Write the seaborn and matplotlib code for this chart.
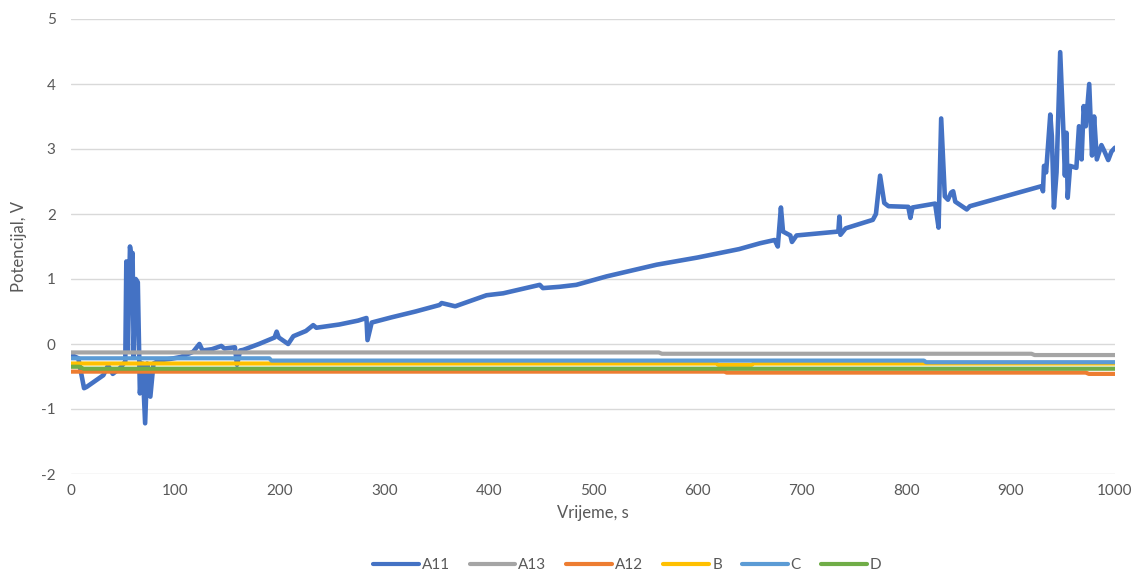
import numpy as np
import pandas as pd
import matplotlib
matplotlib.use("Agg")
import matplotlib.pyplot as plt
from matplotlib.lines import Line2D
import seaborn as sns

# podaci očitani s grafa
t_a11 = [0, 2, 7, 12.5, 15, 31, 35.5, 40, 47, 52, 53, 54.5, 56.5, 58, 59, 60, 62, 64, 66,
         68.5, 71, 73, 76, 79, 85, 95, 105, 117, 123, 126, 135, 144, 147, 157, 159, 162,
         165, 180, 195, 197, 199, 208, 213, 225, 232, 235, 257, 275, 283, 284, 288, 307,
         330, 353, 355, 368, 398, 414, 449, 452, 468, 484, 513, 561, 600, 640, 660, 674,
         677, 680, 682, 689, 690.6, 695, 735, 736, 737, 742, 768, 771, 775, 779, 783, 802,
         804, 806, 827.7, 831, 833.5, 837, 840, 843, 845, 847, 858, 861, 930, 931, 932,
         934, 938, 939.5, 941.5, 944, 947.5, 950.5, 952, 953.5, 954.7, 957, 963, 965.5,
         968, 970, 972, 975.3, 978, 980, 982.6, 987, 990, 993.5, 996.6, 1000]
v_a11 = [-0.2, -0.18, -0.22, -0.68, -0.66, -0.48, -0.33, -0.46, -0.37, -0.27, 1.27, -0.1,
         1.5, 1.3, 1.4, -0.2, 1.0, 0.95, -0.76, -0.3, -1.22, -0.3, -0.81, -0.3, -0.25,
         -0.23, -0.2, -0.12, 0.0, -0.1, -0.08, -0.03, -0.07, -0.05, -0.32, -0.1, -0.09,
         0.0, 0.1, 0.19, 0.1, 0.0, 0.12, 0.2, 0.29, 0.25, 0.3, 0.36, 0.40, 0.06, 0.33,
         0.41, 0.5, 0.6, 0.63, 0.58, 0.75, 0.78, 0.91, 0.86, 0.88, 0.91, 1.04, 1.22,
         1.33, 1.46, 1.55, 1.6, 1.5, 2.1, 1.73, 1.67, 1.57, 1.67, 1.73, 1.96, 1.68, 1.78,
         1.91, 2.0, 2.59, 2.17, 2.12, 2.11, 1.94, 2.1, 2.16, 1.79, 3.47, 2.27, 2.22, 2.33,
         2.35, 2.19, 2.07, 2.12, 2.43, 2.35, 2.74, 2.64, 3.53, 3.2, 2.1, 2.64, 4.49, 3.3,
         2.59, 3.25, 2.25, 2.74, 2.71, 3.35, 2.84, 3.66, 3.35, 4.0, 2.9, 3.5, 2.84, 3.06,
         2.96, 2.83, 2.96, 3.02]

t_a13 = [0, 563, 566, 920, 923, 1000]
v_a13 = [-0.13, -0.13, -0.15, -0.15, -0.17, -0.17]

t_a12 = [0, 626, 628, 972, 975, 1000]
v_a12 = [-0.425, -0.425, -0.44, -0.44, -0.46, -0.46]

t_b = [0, 618, 620, 652, 654, 1000]
v_b = [-0.3, -0.3, -0.32, -0.32, -0.3, -0.3]

t_c = [0, 190, 192, 817, 819, 1000]
v_c = [-0.22, -0.22, -0.255, -0.255, -0.28, -0.28]

t_d = [0, 8, 12, 1000]
v_d = [-0.35, -0.35, -0.38, -0.38]

serije = ['A11', 'A13', 'A12', 'B', 'C', 'D']
boje = ['#4472C4', '#A5A5A5', '#ED7D31', '#FFC000', '#5B9BD5', '#70AD47']

frames = []
for ime, t, v in zip(serije, [t_a11, t_a13, t_a12, t_b, t_c, t_d],
                     [v_a11, v_a13, v_a12, v_b, v_c, v_d]):
    frames.append(pd.DataFrame({'Vrijeme': t, 'Potencijal': v, 'Serija': ime}))
df = pd.concat(frames, ignore_index=True)

sns.set_style("white")
plt.rcParams['font.family'] = ['Lato', 'DejaVu Sans']
plt.rcParams['axes.unicode_minus'] = False

fig = plt.figure(figsize=(11.38, 5.73), dpi=100)
ax = fig.add_axes([71 / 1138, 1 - 474 / 573, (1115 - 71) / 1138, (474 - 19) / 573])

for ime, boja in zip(serije, boje):
    sub = df[df['Serija'] == ime]
    lw = 3.3 if ime == 'A11' else 3.0
    sns.lineplot(data=sub, x='Vrijeme', y='Potencijal', color=boja, lw=lw,
                 estimator=None, sort=False, ax=ax, legend=False,
                 solid_joinstyle='round', solid_capstyle='round')

ax.set_xlim(0, 1000)
ax.set_ylim(-2, 5)
ax.set_xticks(np.arange(0, 1001, 100))
ax.set_yticks(np.arange(-2, 6, 1))
ax.yaxis.grid(True, color='#D9D9D9', lw=1)
ax.xaxis.grid(False)
ax.set_axisbelow(True)
for s in ax.spines.values():
    s.set_visible(False)
ax.tick_params(axis='both', length=0, labelsize=11, labelcolor='#595959')
ax.tick_params(axis='x', pad=7)
ax.tick_params(axis='y', pad=11)
ax.set_xlabel('Vrijeme, s', fontsize=12, color='#595959', labelpad=5)
ax.set_ylabel('Potencijal, V', fontsize=12, color='#595959', labelpad=10)

handles = [Line2D([0], [0], color=b, lw=3.0) for b in boje]
fig.legend(handles, serije, loc='center', bbox_to_anchor=(627 / 1138, 1 - 565 / 573),
           ncol=6, frameon=False, fontsize=11, handlelength=3.0, handletextpad=0.2,
           columnspacing=1.3, labelcolor='#595959')

fig.savefig('out.png', dpi=100)
